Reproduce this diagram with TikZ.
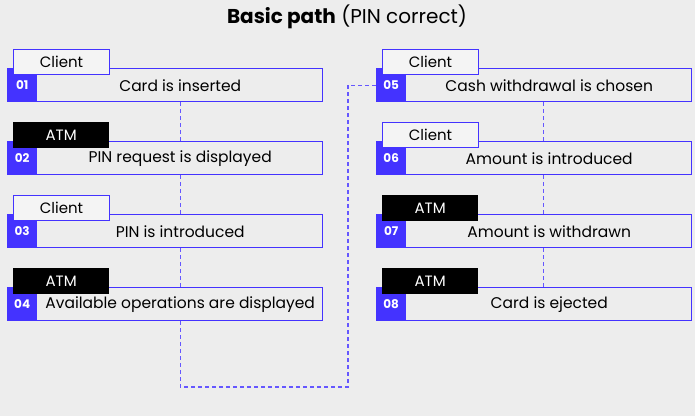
\documentclass[tikz,border=0pt]{standalone}
\usepackage{fontspec}
\setmainfont{Poppins}
\usetikzlibrary{positioning,calc}
\definecolor{stepblue}{HTML}{4433FF}
\definecolor{bggray}{HTML}{EDEDED}
\definecolor{dashblue}{HTML}{6557FF}

\tikzset{
  mainbox/.style={draw=stepblue, fill=bggray, line width=1pt, minimum width=315pt, minimum height=33pt, inner sep=0pt, anchor=north west},
  numbox/.style={fill=stepblue, text=white, font=\fontsize{12}{14}\selectfont\bfseries, minimum width=30pt, minimum height=34pt, inner sep=0pt, anchor=north west},
  steptext/.style={font=\fontsize{15.5}{18}\selectfont, inner sep=0pt},
  clienttab/.style={draw=stepblue, fill=bggray!60!white, line width=1pt, minimum width=96pt, minimum height=25pt, inner sep=0pt, anchor=north west, font=\fontsize{15}{18}\selectfont},
  atmtab/.style={fill=black, text=white, minimum width=96pt, minimum height=26pt, inner sep=0pt, anchor=north west, font=\fontsize{15}{18}\selectfont},
  flow/.style={dashblue, line width=1.2pt, dash pattern=on 4pt off 3pt}
}

\begin{document}
\begin{tikzpicture}[x=1pt,y=-1pt]
  \fill[bggray] (0,0) rectangle (695,416);
  \useasboundingbox (0,0) rectangle (695,416);
  \node[font=\fontsize{20}{24}\selectfont] (title) at (347,17) {\textbf{Basic path} (PIN correct)};

  % steps: number/x/y/tab style/actor/text
  \foreach \n/\x/\y/\who/\role/\txt in {01/7/68/clienttab/Client/Card is inserted,
      02/7/141/atmtab/ATM/PIN request is displayed,
      03/7/214/clienttab/Client/PIN is introduced,
      04/7/287/atmtab/ATM/Available operations are displayed,
      05/376/68/clienttab/Client/Cash withdrawal is chosen,
      06/376/141/clienttab/Client/Amount is introduced,
      07/376/214/atmtab/ATM/Amount is withdrawn,
      08/376/287/atmtab/ATM/Card is ejected} {
    \node[mainbox] (b\n) at (\x,\y) {};
    \node[numbox] (n\n) at (b\n.north west) {\n};
    \node[steptext] (t\n) at ([yshift=-1pt]$(n\n.east)!0.5!(b\n.east)$) {\txt};
    \node[\who] (a\n) at ([xshift=6pt,yshift=19pt]b\n.north west) {\role};
  }

  % dashed flow
  \draw[flow] (t01 |- b01.south) -- (t01 |- b02.north);
  \draw[flow] (t02 |- b02.south) -- (t02 |- b03.north);
  \draw[flow] (t03 |- b03.south) -- (t03 |- b04.north);
  \coordinate (turn) at (348,387);
  \draw[flow] (t04 |- b04.south) |- (turn) |- (n05.west);
  \draw[flow] ([xshift=-6pt]t05 |- b05.south) -- ([xshift=-6pt]t05 |- b06.north);
  \draw[flow] ([xshift=-6pt]t06 |- b06.south) -- ([xshift=-6pt]t06 |- b07.north);
  \draw[flow] ([xshift=-6pt]t07 |- b07.south) -- ([xshift=-6pt]t07 |- b08.north);
\end{tikzpicture}
\end{document}
